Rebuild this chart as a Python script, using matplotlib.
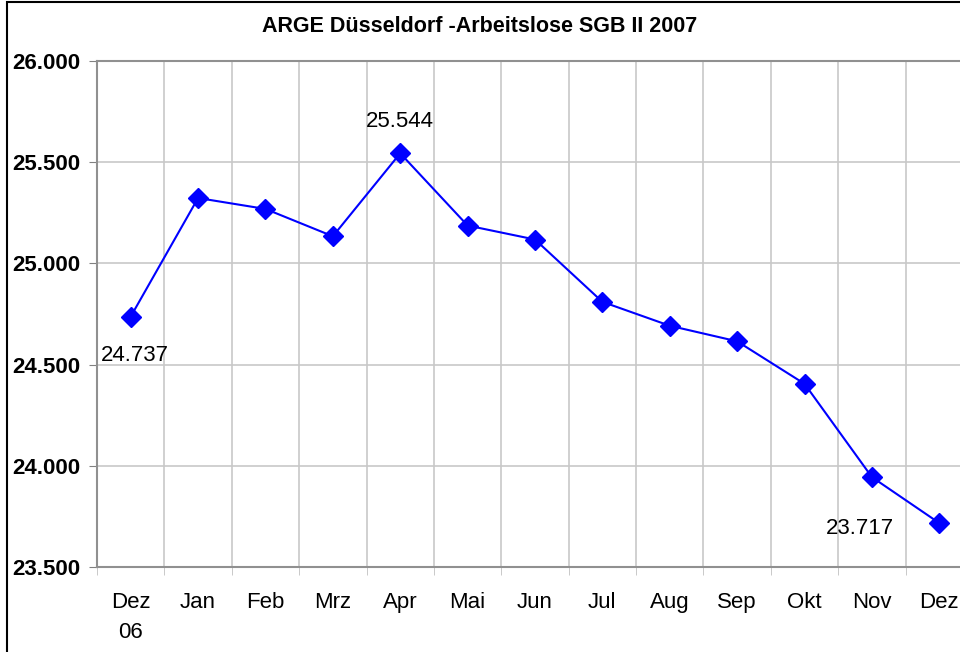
import matplotlib.pyplot as plt
from matplotlib.patches import Rectangle
from matplotlib.ticker import FuncFormatter, MultipleLocator

plt.rcParams['font.family'] = ['Liberation Sans', 'DejaVu Sans']

months = ['Dez\n06', 'Jan', 'Feb', 'Mrz', 'Apr', 'Mai', 'Jun', 'Jul', 'Aug', 'Sep', 'Okt', 'Nov', 'Dez']
values = [24737, 25323, 25269, 25134, 25544, 25187, 25118, 24810, 24692, 24615, 24405, 23944, 23717]

# which points get a value label, and where (offset in points)
labelled = {0: (3, -28), 4: (0, 23), 12: (-57, -4)}

fig = plt.figure(figsize=(9.6, 6.52), dpi=100)
# outer chart frame (cut off on right / bottom like the original)
fig.patches.append(Rectangle((7 / 960, -0.1), 1.2, 1 - 2 / 652 + 0.1, transform=fig.transFigure,
                             fill=False, edgecolor='black', linewidth=1.5))

ax = fig.add_axes([97 / 960, 1 - 567 / 652, 876 / 960, 506 / 652])
x = list(range(len(months)))
ax.plot(x, values, color='#0000ff', linewidth=1.5, marker='D', markersize=10, zorder=3, clip_on=False)

for i, (dx, dy) in labelled.items():
    txt = f'{values[i]:,}'.replace(',', '.')
    ax.annotate(txt, (i, values[i]), xytext=(dx, dy), textcoords='offset points',
                ha='center', va='center', fontsize=16)

ax.set_xlim(-0.5, len(months) - 0.5)
ax.set_ylim(23500, 26000)
ax.yaxis.set_major_locator(MultipleLocator(500))
ax.yaxis.set_major_formatter(FuncFormatter(lambda v, p: f'{int(v):,}'.replace(',', '.')))
ax.tick_params(axis='y', labelsize=16, length=6, color='#808080', pad=6)
for lab in ax.get_yticklabels():
    lab.set_fontweight('bold')

ax.set_xticks(x)
ax.set_xticklabels(months, fontsize=16, linespacing=1.55)
ax.set_xticks([i - 0.5 for i in range(len(months) + 1)], minor=True)
ax.tick_params(axis='x', which='major', length=0, pad=18)
ax.tick_params(axis='x', which='minor', length=6, color='#c0c0c0')

ax.grid(True, axis='y', color='#c8c8c8', linewidth=1.2)
ax.grid(True, axis='x', which='minor', color='#c8c8c8', linewidth=1.2)
ax.set_axisbelow(True)
for side in ['left', 'bottom', 'top']:
    ax.spines[side].set_color('#909090')
    ax.spines[side].set_linewidth(1.5)
ax.spines['right'].set_visible(False)

fig.text(0.5, 1 - 27 / 652, 'ARGE Düsseldorf -Arbeitslose SGB II 2007', ha='center', va='center',
         fontsize=15.5, fontweight='bold')

fig.savefig('out.png', dpi=100)
